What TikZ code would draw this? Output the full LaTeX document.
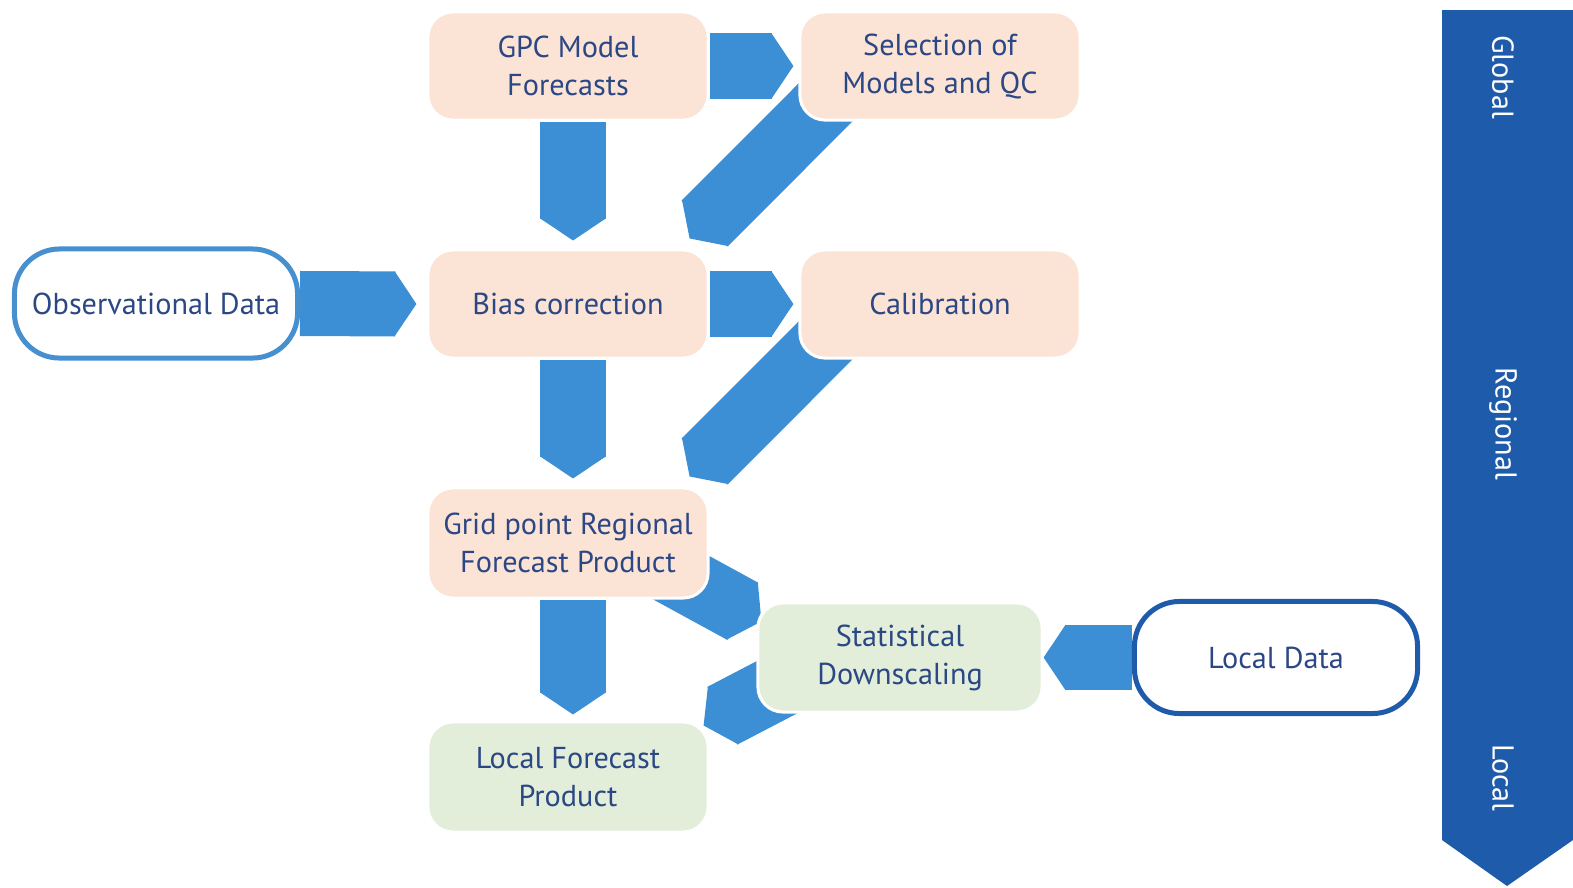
\documentclass[tikz,border=0pt]{standalone}
\usepackage{fontspec}
\setmainfont{PT Sans}
\usetikzlibrary{arrows.meta,backgrounds}
\definecolor{peach}{HTML}{FBE3D5}
\definecolor{leaf}{HTML}{E2EEDA}
\definecolor{flowblue}{HTML}{3D8FD5}
\definecolor{bandblue}{HTML}{1F5BAB}
\definecolor{obsblue}{HTML}{4690D0}
\definecolor{inkblue}{HTML}{2B4784}

\begin{document}
\begin{tikzpicture}[x=0.01cm, y=-0.01cm,
        every node/.style = {font=\fontsize{8.6}{10.8}\selectfont, text=inkblue, align=center},
        box/.style = {rounded corners=0.25cm, minimum width=2.8cm, minimum height=1.08cm,
          inner sep=0pt, draw=white, line width=0.03cm},
        regional/.style = {box, fill=peach},
        local/.style = {box, fill=leaf},
        source/.style = {rounded corners=0.45cm, minimum width=2.83cm, minimum height=1.09cm,
          inner sep=0pt, fill=white, line width=0.05cm},
        flow/.style = {draw=flowblue, line width=0.65cm,
          -{Triangle[length=0.22cm, width=0.65cm, line width=1pt]}},
        scale label/.style = {text=white, rotate=-90}]
      \useasboundingbox (0,0) rectangle (1573,887);
      % scale band
      \fill[bandblue] (1442,10) -- (1573,10) -- (1573,840) -- (1507,886) -- (1442,840) -- cycle;
      \node[scale label] (global) at (1503,77) {Global};
      \node[scale label] (regionalband) at (1503,424) {Regional};
      \node[scale label] (localband) at (1503,778) {Local};
      % boxes
      \node[regional] (gpc) at (568,66) {GPC Model\\Forecasts};
      \node[regional] (sel) at (940,66) {Selection of\\Models and QC};
      \node[source, draw=obsblue] (obs) at (156,303.5) {Observational Data};
      \node[regional] (bias) at (568,304) {Bias correction};
      \node[regional] (cal) at (940,304) {Calibration};
      \node[regional, minimum height=1.1cm] (grid) at (568,543) {Grid point Regional\\Forecast Product};
      \node[local, minimum width=2.84cm, minimum height=1.09cm] (stat) at (900,657.5) {Statistical\\Downscaling};
      \node[source, draw=bandblue, minimum height=1.12cm] (ldata) at (1276,657.5) {Local Data};
      \node[local, minimum height=1.1cm] (lfc) at (568,777) {Local Forecast\\Product};
      % flows
      \begin{scope}[on background layer]
        \draw[flow] (gpc.east) -- ([xshift=-0.05cm]sel.west);
        \draw[flow] ([xshift=0.05cm]gpc.south) -- ([xshift=0.05cm, yshift=0.08cm]bias.north);
        \draw[flow] ([shift={(35,-27)}]sel.south west) -- ([shift={(-20,-10)}]bias.north east);
        \draw[flow] (obs.east) -- ([xshift=-0.1cm]bias.west);
        \draw[flow] (bias.east) -- ([xshift=-0.05cm]cal.west);
        \draw[flow] ([xshift=0.05cm]bias.south) -- ([xshift=0.05cm, yshift=0.08cm]grid.north);
        \draw[flow] ([shift={(35,-27)}]cal.south west) -- ([shift={(-20,-10)}]grid.north east);
        \draw[flow] ([shift={(-58,-38)}]grid.south east) -- ([shift={(5,20)}]stat.north west);
        \draw[flow] ([xshift=0.05cm]grid.south) -- ([xshift=0.05cm, yshift=0.06cm]lfc.north);
        \draw[flow] ([xshift=-0.66cm]stat.center) -- ([shift={(-6,5)}]lfc.north east);
        \draw[flow] (ldata.west) -- (stat.east);
      \end{scope}
    \end{tikzpicture}
\end{document}
